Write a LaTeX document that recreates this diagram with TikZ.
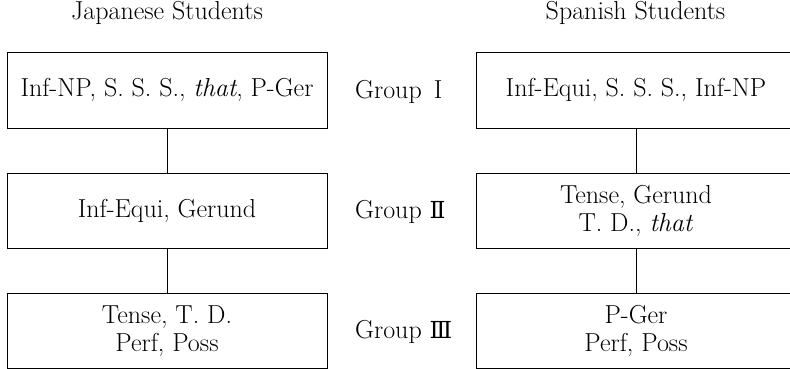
\documentclass[tikz,border=0pt]{standalone}
\usepackage{fontspec}
\newfontfamily\numf[Scale=0.9]{DejaVu Serif}
\newcommand{\bigtxt}{\fontsize{26}{28}\selectfont}
\begin{document}
\begin{tikzpicture}[x=1pt,y=-1pt,
  box/.style={draw, line width=0.8pt, minimum width=320pt, minimum height=75pt, inner sep=0pt, align=center, font=\bigtxt},
  lbl/.style={inner sep=0pt, align=center, font=\bigtxt},
  grp/.style={inner sep=0pt, anchor=west, font=\bigtxt},
  link/.style={line width=0.8pt}]
\useasboundingbox (0,0) rectangle (790,369);
\clip (0,0) rectangle (790,369);
\node[lbl] (hj) at (167,13) {Japanese Students};
\node[lbl] (hs) at (635.5,13) {Spanish Students};
\node[box, minimum height=76pt] (j1) at (167,90) {Inf-NP, S. S. S., \textit{that}, P-Ger};
\node[box] (j2) at (167,210.5) {Inf-Equi, Gerund};
\node[box] (j3) at (167,331) {Tense, T. D.\\Perf, Poss};
\node[box, minimum height=76pt] (s1) at (636,90) {Inf-Equi, S. S. S., Inf-NP};
\node[box] (s2) at (636,210.5) {Tense, Gerund\\T. D., \textit{that}};
\node[box] (s3) at (636,331) {P-Ger\\Perf, Poss};
\node[grp] (g1) at (355,92) {Group\ \,I};
\node[grp] (g2) at (355,212) {Group\ {\numf Ⅱ}};
\node[grp] (g3) at (355,332) {Group\ {\numf Ⅲ}};
\draw[link] (j1.south) -- (j2.north);
\draw[link] (j2.south) -- (j3.north);
\draw[link] (s1.south) -- (s2.north);
\draw[link] (s2.south) -- (s3.north);
\end{tikzpicture}
\end{document}
